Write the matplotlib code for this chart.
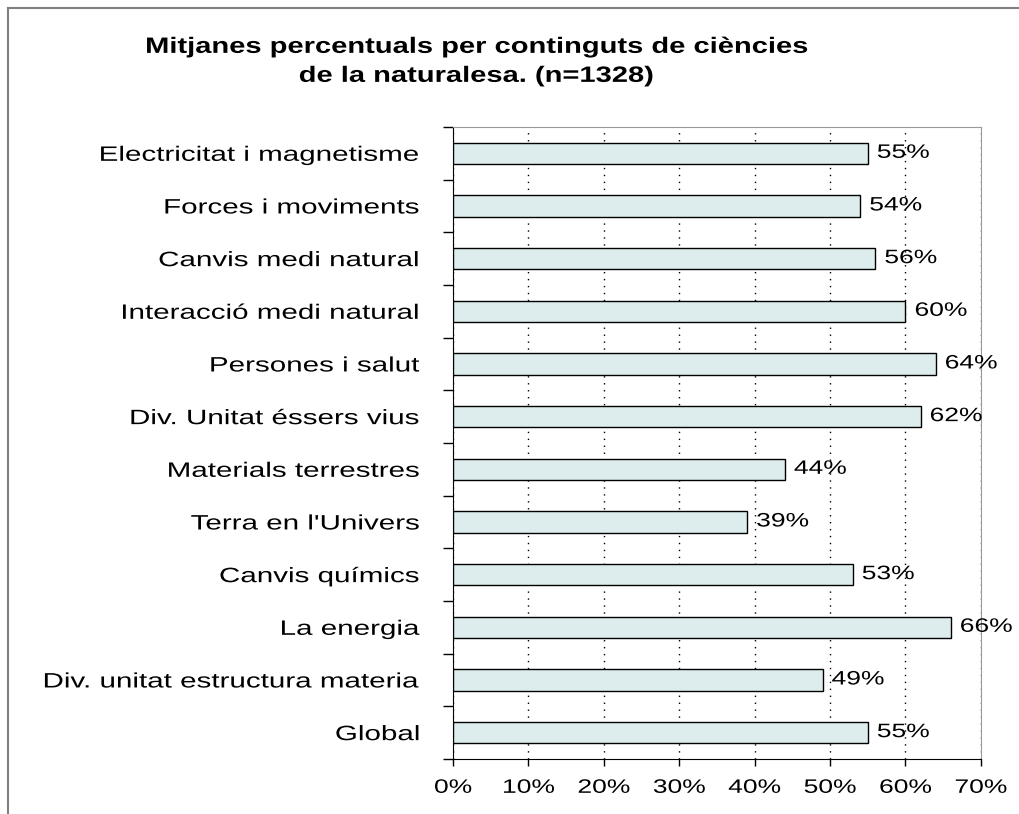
import matplotlib.pyplot as plt
import matplotlib.patheffects as pe
from matplotlib.lines import Line2D
from matplotlib.transforms import Affine2D

plt.rcParams['font.family'] = ['Liberation Sans', 'DejaVu Sans']

categories = ['Electricitat i magnetisme', 'Forces i moviments', 'Canvis medi natural',
              'Interacció medi natural', 'Persones i salut', 'Div. Unitat éssers vius',
              'Materials terrestres', "Terra en l'Univers", 'Canvis químics',
              'La energia', 'Div. unitat estructura materia', 'Global']
values = [55, 54, 56, 60, 64, 62, 44, 39, 53, 66, 49, 55]
xticks = [0, 10, 20, 30, 40, 50, 60, 70]
title = 'Mitjanes percentuals per continguts de ciències\nde la naturalesa. (n=1328)'


class Stretch(pe.AbstractPathEffect):
    # widen glyphs horizontally, like the wide Excel text rendering
    def __init__(self, sx, ha='left'):
        super().__init__()
        self.sx = sx
        self.ha = ha

    def draw_path(self, renderer, gc, tpath, affine, rgbFace=None):
        pts = affine.transform(tpath.vertices) if len(tpath.vertices) else None
        x0 = affine.transform([[0, 0]])[0, 0]
        if pts is None:
            anchor = x0
        elif self.ha == 'right':
            anchor = pts[:, 0].max()
        elif self.ha == 'center':
            anchor = (pts[:, 0].min() + pts[:, 0].max()) / 2
        else:
            anchor = x0
        new = affine + Affine2D().translate(-anchor, 0).scale(self.sx, 1).translate(anchor, 0)
        renderer.draw_path(gc, tpath, new, rgbFace)


fig = plt.figure(figsize=(10.19, 8.14), dpi=100)
ax = fig.add_axes([0.4446, 0.0676, 0.518, 0.7764])

y = list(range(len(categories)))[::-1]
ax.barh(y, values, height=0.4, color='#DDEDED', edgecolor='black', linewidth=1, zorder=3)
for yi, v in zip(y, values):
    t = ax.annotate(f'{v}%', (v, yi), xytext=(6.5, 0), textcoords='offset points',
                    va='center', ha='left', fontsize=14, zorder=4)
    t.set_path_effects([Stretch(1.36, 'left')])

ax.set_xlim(0, 70)
ax.set_ylim(-0.5, len(categories) - 0.5)
ax.set_xticks(xticks)
ax.set_xticklabels([f'{x}%' for x in xticks], fontsize=14)
ax.set_yticks(y)
ax.set_yticklabels(categories, fontsize=15)
ax.set_yticks([i + 0.5 for i in range(-1, len(categories))], minor=True)
ax.tick_params(axis='y', which='major', length=0, pad=24)
ax.tick_params(axis='y', which='minor', length=7, width=1, direction='out')
ax.tick_params(axis='x', length=5, width=1, direction='out', pad=10)
ax.xaxis.grid(True, linestyle=(0, (1, 4)), color='black', linewidth=1, zorder=0)

for t in ax.get_yticklabels():
    t.set_path_effects([Stretch(1.42, 'right')])
for t in ax.get_xticklabels():
    t.set_path_effects([Stretch(1.36, 'center')])

for s in ['top', 'right']:
    ax.spines[s].set_color('#999999')
for s in ['left', 'bottom']:
    ax.spines[s].set_color('black')

tt = fig.text(0.467, 0.924, title, ha='center', va='center', fontsize=16,
              fontweight='bold', linespacing=1.5)
tt.set_path_effects([Stretch(1.31, 'center')])

# outer chart frame (top and left visible)
fig.add_artist(Line2D([0.008, 1.0], [0.990, 0.990], color='#808080', linewidth=1.5,
                      transform=fig.transFigure))
fig.add_artist(Line2D([0.008, 0.008], [0.0, 0.990], color='#808080', linewidth=1.5,
                      transform=fig.transFigure))

fig.savefig('out.png', dpi=100)
